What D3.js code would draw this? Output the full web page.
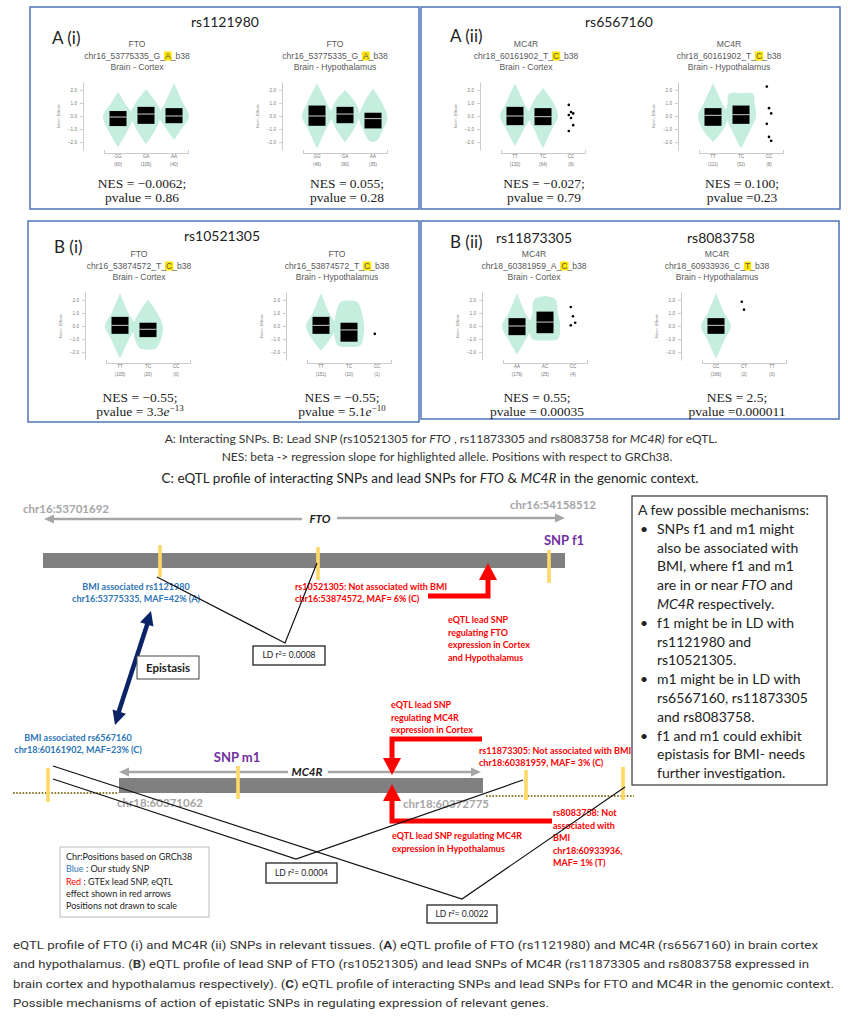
<!DOCTYPE html>
<html>
<head>
<meta charset="utf-8">
<script src="https://cdn.jsdelivr.net/npm/d3@7"></script>
<style>
  body { margin: 0; background: #fff; }
  svg { display: block; }
</style>
</head>
<body>
<svg id="fig" width="848" height="1024"></svg>
<script>
// ---------- data ----------
const panelLabels = ['A (i)', 'A (ii)', 'B (i)', 'B (ii)'];
const snpHeaders = ['rs1121980', 'rs6567160', 'rs10521305', 'rs11873305', 'rs8083758'];

const genes = ['FTO', 'FTO', 'MC4R', 'MC4R', 'FTO', 'FTO', 'MC4R', 'MC4R'];
const variantIds = [
  'chr16_53775335_G_A_b38', 'chr16_53775335_G_A_b38',
  'chr18_60161902_T_C_b38', 'chr18_60161902_T_C_b38',
  'chr16_53874572_T_C_b38', 'chr16_53874572_T_C_b38',
  'chr18_60381959_A_C_b38', 'chr18_60933936_C_T_b38'
];
const tissues = ['Brain - Cortex', 'Brain - Hypothalamus', 'Brain - Cortex', 'Brain - Hypothalamus',
  'Brain - Cortex', 'Brain - Hypothalamus', 'Brain - Cortex', 'Brain - Hypothalamus'];
const genotypes = [
  ['GG', 'GA', 'AA'], ['GG', 'GA', 'AA'], ['TT', 'TC', 'CC'], ['TT', 'TC', 'CC'],
  ['TT', 'TC', 'CC'], ['TT', 'TC', 'CC'], ['AA', 'AC', 'CC'], ['CC', 'CT', 'TT']
];
const sampleCounts = [
  [60, 105, 40], [46, 90, 35], [132, 64, 9], [111, 52, 8],
  [105, 20, 0], [151, 10, 1], [176, 25, 4], [166, 2, 0]
];
// violin outline: [normalised expression, relative density]
const violinProfiles = [
  [[[1.85,0],[1.0,0.45],[0,1],[-1.0,0.7],[-2.4,0]],
   [[2.05,0],[1.0,0.7],[0.2,1],[-1.0,0.65],[-2.15,0]],
   [[2.5,0],[1.0,0.6],[0,1],[-1.0,0.5],[-1.85,0]]],
  [[[2.5,0],[1.0,0.65],[0,1],[-1.0,0.6],[-2.5,0]],
   [[2.0,0],[1.0,0.7],[0.2,0.95],[-1.0,0.6],[-2.0,0]],
   [[2.1,0],[1.0,0.6],[-0.1,0.95],[-1.2,0.6],[-1.9,0.25],[-2.0,0]]],
  [[[2.5,0],[1.0,0.6],[0,1],[-1.0,0.6],[-2.3,0]],
   [[2.15,0],[1.0,0.7],[0,1],[-1.0,0.6],[-2.5,0]],
   null],
  [[[2.5,0],[1.0,0.6],[0,1],[-1.0,0.7],[-2.0,0]],
   [[1.75,0],[1.7,0.8],[1.0,0.9],[0,1],[-1.0,0.65],[-2.5,0]],
   null],
  [[[2.5,0],[1.0,0.55],[0,1],[-1.0,0.6],[-2.5,0]],
   [[2.0,0],[1.2,0.5],[-0.1,1],[-1.7,0.55],[-1.8,0]],
   null],
  [[[2.5,0],[1.0,0.55],[0,1],[-1.0,0.6],[-1.9,0]],
   [[1.95,0],[1.85,0.55],[0.5,0.95],[-0.5,1],[-1.5,0.75],[-1.6,0]],
   null],
  [[[2.5,0],[1.0,0.55],[0,1],[-1.0,0.6],[-2.2,0]],
   [[2.3,0],[2.05,0.7],[1.0,0.85],[0.2,1],[-1.0,0.85],[-1.1,0]],
   null],
  [[[2.5,0],[1.0,0.55],[0,1],[-1.0,0.6],[-2.5,0]],
   null,
   null]
];
// box: [q1, median, q3]
const boxStats = [
  [[-0.77,-0.08,0.38], [-0.6,0.15,0.7], [-0.55,0.0,0.6]],
  [[-0.75,0.0,0.8], [-0.55,0.15,0.7], [-0.95,-0.2,0.25]],
  [[-0.7,0.0,0.7], [-0.7,-0.05,0.6], null],
  [[-0.75,0.05,0.6], [-0.6,0.1,0.8], null],
  [[-0.6,0.05,0.7], [-0.85,-0.25,0.25], null],
  [[-0.6,0.05,0.7], [-1.2,-0.3,0.25], null],
  [[-0.7,0.0,0.6], [-0.55,0.3,1.1], null],
  [[-0.6,0.05,0.6], null, null]
];
// single samples drawn as dots
const pointValues = [
  [[], [], []], [[], [], []],
  [[], [], [0.85, 0.3, 0.2, 0.08, -0.15, -0.7, -1.15]],
  [[], [], [2.25, 0.6, 0.2, -0.6, -1.6, -1.9]],
  [[], [], []],
  [[], [], [-0.6]],
  [[], [], [1.45, 0.75, 0.25, 0.05]],
  [[], [1.85, 1.25], []]
];
const nesValues = ['\u22120.0062', '0.055', '\u22120.027', '0.100', '\u22120.55', '\u22120.55', '0.55', '2.5'];
const pValues = ['= 0.86', '= 0.28', '= 0.79', '=0.23', '= 3.3e\u221213', '= 5.1e\u221210', '= 0.00035', '=0.000011'];

const captionTop = [
  [['A: Interacting SNPs. B: Lead SNP (rs10521305 for '], ['FTO', 'i'], [' , rs11873305 and rs8083758 for '], ['MC4R)', 'i'], [' for eQTL.']],
  [['NES: beta -> regression slope for highlighted allele. Positions with respect to GRCh38.']],
  [['C: eQTL profile of interacting SNPs and lead SNPs for '], ['FTO', 'i'], [' & '], ['MC4R', 'i'], [' in the genomic context.']]
];

const geneRanges = [['chr16:53701692', 'chr16:54158512'], ['chr18:60371062', 'chr18:60372775']];
const studySnpText = [
  ['BMI associated rs1121980', 'chr16:53775335, MAF=42% (A)'],
  ['BMI associated rs6567160', 'chr18:60161902, MAF=23% (C)']
];
const leadSnpText = [
  ['rs10521305: Not associated with BMI', 'chr16:53874572, MAF= 6% (C)'],
  ['rs11873305: Not associated with BMI', 'chr18:60381959, MAF= 3% (C)'],
  ['rs8083758: Not', 'associated with', 'BMI', 'chr18:60933936,', 'MAF= 1% (T)']
];
const eqtlNotes = [
  ['eQTL lead SNP', 'regulating FTO', 'expression in Cortex', 'and Hypothalamus'],
  ['eQTL lead SNP', 'regulating MC4R', 'expression in Cortex'],
  ['eQTL lead SNP regulating MC4R', 'expression in Hypothalamus']
];
const ldValues = ['0.0008', '0.0004', '0.0022'];
const candidateSnps = ['SNP f1', 'SNP m1'];

const mechanismLines = [
  [['A few possible mechanisms:']],
  [['SNPs f1 and m1 might']], [['also be associated with']], [['BMI, where f1 and m1']],
  [['are in or near '], ['FTO', 'i'], [' and']], [['MC4R', 'i'], [' respectively.']],
  [['f1 might be in LD with']], [['rs1121980 and']], [['rs10521305.']],
  [['m1 might be in LD with']], [['rs6567160, rs11873305']], [['and rs8083758.']],
  [['f1 and m1 could exhibit']], [['epistasis for BMI- needs']], [['further investigation.']]
];
const bulletRows = [1, 6, 9, 12];

const legendLines = [
  [['Chr:Positions based on GRCh38']],
  [['Blue', 'blue'], [' : Our study SNP']],
  [['Red', 'red'], ['  : GTEx lead SNP, eQTL']],
  [['effect shown in red arrows']],
  [['Positions not drawn to scale']]
];

const captionBottom = [
  [['eQTL profile of FTO (i) and MC4R (ii) SNPs in relevant tissues. ('], ['A', 'b'], [') eQTL profile of FTO (rs1121980) and MC4R (rs6567160) in brain cortex']],
  [['and hypothalamus. ('], ['B', 'b'], [') eQTL profile of lead SNP of FTO (rs10521305) and lead SNPs of MC4R (rs11873305 and rs8083758 expressed in']],
  [['brain cortex and hypothalamus respectively). ('], ['C', 'b'], [') eQTL profile of interacting SNPs and lead SNPs for FTO and MC4R in the genomic context.']],
  [['Possible mechanisms of action of epistatic SNPs in regulating expression of relevant genes.']]
];

// ---------- helpers ----------
const svg = d3.select('#fig');
const LATO = 'Lato, "Open Sans", sans-serif';
const ARIAL = '"Liberation Sans", Arial, sans-serif';
const SERIF = '"Liberation Serif", "DejaVu Serif", serif';
const RED = '#ff0000', BLUE = '#2e75b6', PURPLE = '#7030a0', GREY = '#a6a6a6', GOLD = '#ffd966';

function txt(g, x, y, s, o = {}) {
  const t = g.append('text').attr('x', x).attr('y', y).attr('dy', '0.35em')
    .attr('font-family', o.font || LATO).attr('font-size', o.size || 10)
    .attr('fill', o.fill || '#222').attr('text-anchor', o.anchor || 'start')
    .text(s);
  if (o.weight) t.attr('font-weight', o.weight);
  if (o.style) t.attr('font-style', o.style);
  if (o.len) t.attr('textLength', o.len).attr('lengthAdjust', 'spacingAndGlyphs');
  return t;
}
function rich(g, x, y, parts, o = {}) {
  const t = txt(g, x, y, '', o);
  parts.forEach(([s, f = '']) => {
    const ts = t.append('tspan').text(s);
    if (f === 'i') ts.attr('font-style', 'italic');
    if (f === 'b') ts.attr('font-weight', 'bold');
    if (f === 'blue') ts.attr('fill', BLUE);
    if (f === 'red') ts.attr('fill', RED);
  });
  return t;
}
function lines(g, x, y, arr, step, o) {
  arr.forEach((s, k) => txt(g, x, y + k * step, s, o));
}
function head(g, tip, dir, len, half, fill) {
  const [tx, ty] = tip, [dx, dy] = dir;
  const bx = tx - dx * len, by = ty - dy * len;
  g.append('path')
    .attr('d', `M${tx},${ty}L${bx - dy * half},${by + dx * half}L${bx + dy * half},${by - dx * half}Z`)
    .attr('fill', fill);
}

// ---------- panels ----------
const panelBoxes = [[30, 7, 389, 202], [421, 7, 419, 202], [28, 221, 391, 201], [421, 221, 418, 198]];
svg.append('g').selectAll('rect').data(panelBoxes).join('rect')
  .attr('x', d => d[0]).attr('y', d => d[1]).attr('width', d => d[2]).attr('height', d => d[3])
  .attr('fill', '#fff').attr('stroke', '#4f74b8').attr('stroke-width', 1.5);

const labelPos = [[52, 38], [450, 36], [54, 247], [450, 242]];
panelLabels.forEach((s, k) => txt(svg, labelPos[k][0], labelPos[k][1], s, { size: 17 }));
const headerPos = [[225, 22], [619, 22], [222, 236], [534, 238], [721, 238]];
snpHeaders.forEach((s, k) => txt(svg, headerPos[k][0], headerPos[k][1], s, { size: 14, anchor: 'middle' }));

// ---------- violin plots ----------
const plotLayout = [
  { ax: 83, y0: 116, tx: 137, nx: 142, ty: 44, ny: 183 },
  { ax: 282, y0: 116, tx: 335, nx: 347, ty: 44, ny: 183 },
  { ax: 480, y0: 116, tx: 526, nx: 544, ty: 44, ny: 183 },
  { ax: 678, y0: 116, tx: 729, nx: 742, ty: 44, ny: 183 },
  { ax: 85, y0: 326, tx: 139, nx: 140, ty: 254, ny: 397 },
  { ax: 286, y0: 326, tx: 337, nx: 342, ty: 254, ny: 397 },
  { ax: 482, y0: 326, tx: 534, nx: 537, ty: 254, ny: 397 },
  { ax: 681, y0: 326, tx: 717, nx: 737, ty: 254, ny: 397 }
];

plotLayout.forEach((L, i) => {
  const g = svg.append('g');
  // titles
  txt(g, L.tx, L.ty, genes[i], { font: ARIAL, size: 8.6, fill: '#5a5a5a', anchor: 'middle' });
  const parts = variantIds[i].split('_');
  const pre = parts.slice(0, 3).join('_') + '_';
  const idT = txt(g, L.tx, L.ty + 12, variantIds[i], { font: ARIAL, size: 8.6, fill: '#5a5a5a', anchor: 'middle' });
  const ext = idT.node().getExtentOfChar(pre.length);
  g.insert('rect', () => idT.node())
    .attr('x', ext.x - 1).attr('y', ext.y + 0.5).attr('width', ext.width + 2).attr('height', ext.height - 1)
    .attr('fill', '#ffe600');
  txt(g, L.tx, L.ty + 23, tissues[i], { font: ARIAL, size: 8.6, fill: '#5a5a5a', anchor: 'middle' });

  const y = d3.scaleLinear().domain([-2.6, 2.6]).range([L.y0 + 34, L.y0 - 34]);
  const x = d3.scaleBand().domain(genotypes[i]).range([L.ax + 21, L.ax + 105]);
  const cx = gt => x(gt) + x.bandwidth() / 2;

  const yAxis = g.append('g').attr('transform', `translate(${L.ax},0)`)
    .call(d3.axisLeft(y).tickValues([-2, -1, 0, 1, 2]).tickFormat(d3.format('.1f'))
      .tickSizeInner(3).tickSizeOuter(0).tickPadding(3));
  yAxis.selectAll('path,line').attr('stroke', '#aaa').attr('stroke-width', 0.6);
  yAxis.selectAll('text').attr('font-size', 4.6).attr('fill', '#777').attr('font-family', ARIAL);
  txt(g, 0, 0, 'Norm. Effects', { font: ARIAL, size: 4, fill: '#888', anchor: 'middle' })
    .attr('transform', `translate(${L.ax - 24},${L.y0}) rotate(-90)`);

  const xAxis = g.append('g').attr('transform', `translate(0,${L.y0 + 37})`)
    .call(d3.axisBottom(x).tickSizeInner(0).tickSizeOuter(-3).tickPadding(2));
  xAxis.selectAll('path,line').attr('stroke', '#aaa').attr('stroke-width', 0.6);
  xAxis.selectAll('text').attr('font-size', 4.6).attr('fill', '#777').attr('font-family', ARIAL);
  genotypes[i].forEach((gt, k) =>
    txt(g, cx(gt), L.y0 + 48, `(${sampleCounts[i][k]})`, { font: ARIAL, size: 4.6, fill: '#777', anchor: 'middle' }));

  const area = d3.area().curve(d3.curveCatmullRom.alpha(0.5)).y(d => y(d[0]));
  genotypes[i].forEach((gt, k) => {
    const prof = violinProfiles[i][k];
    const c = cx(gt);
    if (prof) {
      g.append('path').datum(prof)
        .attr('d', area.x0(d => c - d[1] * 15).x1(d => c + d[1] * 15))
        .attr('fill', '#c6eedf');
    }
  });
  genotypes[i].forEach((gt, k) => {
    const b = boxStats[i][k];
    const c = cx(gt);
    if (b) {
      g.append('rect').attr('x', c - 8.5).attr('y', y(b[2])).attr('width', 17)
        .attr('height', y(b[0]) - y(b[2])).attr('fill', '#000');
      g.append('line').attr('x1', c - 8.5).attr('x2', c + 8.5).attr('y1', y(b[1])).attr('y2', y(b[1]))
        .attr('stroke', '#fff').attr('stroke-width', 0.8);
    }
    g.selectAll(null).data(pointValues[i][k]).join('circle')
      .attr('cx', (d, j) => c + ((j % 3) - 1) * 2.2).attr('cy', d => y(d)).attr('r', 1.3).attr('fill', '#000');
  });

  // NES / p-value
  txt(g, L.nx, L.ny, `NES = ${nesValues[i]};`, { font: SERIF, size: 13.5, anchor: 'middle' });
  const pv = pValues[i];
  if (pv.includes('e')) {
    const [m, e] = pv.split('e');
    const t = txt(g, L.nx, L.ny + 14, '', { font: SERIF, size: 13.5, anchor: 'middle' });
    t.append('tspan').text(`pvalue ${m}`);
    t.append('tspan').attr('font-style', 'italic').text('e');
    t.append('tspan').attr('font-size', 9).attr('dy', -5).text(e);
  } else {
    txt(g, L.nx, L.ny + 14, `pvalue ${pv}`, { font: SERIF, size: 13.5, anchor: 'middle' });
  }
});

// ---------- caption between panels and diagram ----------
rich(svg, 441, 439, captionTop[0], { size: 12, fill: '#333', anchor: 'middle' });
rich(svg, 447, 457, captionTop[1], { size: 12, fill: '#333', anchor: 'middle' });
rich(svg, 430, 478, captionTop[2], { size: 13.5, fill: '#222', anchor: 'middle' });

// ---------- genomic context diagram ----------
const dg = svg.append('g');
function greyArrow(x1, x2, y) {
  const dir = x2 > x1 ? 1 : -1;
  dg.append('line').attr('x1', x1).attr('x2', x2 - dir * 8).attr('y1', y).attr('y2', y)
    .attr('stroke', GREY).attr('stroke-width', 2.6);
  head(dg, [x2, y], [dir, 0], 10, 4.5, GREY);
}
function tick(x, y1, y2) {
  dg.append('rect').attr('x', x - 1.8).attr('y', y1).attr('width', 3.6).attr('height', y2 - y1).attr('fill', GOLD);
}
function redElbow(pts, tip, dir) {
  dg.append('path').attr('d', d3.line()(pts)).attr('fill', 'none')
    .attr('stroke', RED).attr('stroke-width', 5).attr('stroke-linejoin', 'miter');
  head(dg, tip, dir, 17, 9, RED);
}
function ldBox(x, y, w, h, val) {
  dg.append('rect').attr('x', x).attr('y', y).attr('width', w).attr('height', h)
    .attr('fill', '#fff').attr('stroke', '#222').attr('stroke-width', 1.3);
  const t = txt(dg, x + w / 2, y + h / 2, '', { size: 8.5, anchor: 'middle' });
  t.append('tspan').text('LD r');
  t.append('tspan').attr('font-size', 5.5).attr('dy', -3).text('2');
  t.append('tspan').attr('dy', 3).text(`= ${val}`);
}

// FTO
txt(dg, 23, 509, geneRanges[0][0], { size: 11.5, weight: 'bold', fill: GREY });
txt(dg, 510, 505, geneRanges[0][1], { size: 11.5, weight: 'bold', fill: GREY });
greyArrow(302, 44, 519);
greyArrow(337, 565, 518);
txt(dg, 320, 519, 'FTO', { size: 11.5, weight: 'bold', style: 'italic', anchor: 'middle' });
dg.append('rect').attr('x', 43).attr('y', 553).attr('width', 522).attr('height', 15).attr('fill', '#808080');
tick(160, 545, 577); tick(318, 547, 580); tick(549, 550, 583);
txt(dg, 564, 540, candidateSnps[0], { size: 13, weight: 'bold', fill: PURPLE, anchor: 'middle' });
lines(dg, 136, 587, studySnpText[0], 11.5, { size: 9, weight: 'bold', fill: BLUE, anchor: 'middle' });
lines(dg, 295, 587, leadSnpText[0], 11.5, { size: 9, weight: 'bold', fill: RED });
redElbow([[428, 596], [488, 596], [488, 578]], [488, 563], [0, -1]);
lines(dg, 448, 620, eqtlNotes[0], 12.5, { size: 9, weight: 'bold', fill: RED });
dg.append('path').attr('d', 'M157,577L285,643L317,563').attr('fill', 'none').attr('stroke', '#111').attr('stroke-width', 1.2);
ldBox(253, 646, 72, 19, ldValues[0]);

// epistasis
dg.append('line').attr('x1', 148).attr('y1', 622).attr('x2', 118).attr('y2', 714)
  .attr('stroke', '#0b2467').attr('stroke-width', 4.5);
{
  const dx = 115 - 151, dy = 725 - 611, n = Math.hypot(dx, dy);
  head(dg, [151, 611], [-dx / n, -dy / n], 14, 7, '#0b2467');
  head(dg, [115, 725], [dx / n, dy / n], 14, 7, '#0b2467');
}
dg.append('rect').attr('x', 137).attr('y', 656).attr('width', 62).attr('height', 23)
  .attr('fill', '#fff').attr('stroke', '#444').attr('stroke-width', 1);
txt(dg, 168, 668, 'Epistasis', { size: 11.5, weight: 'bold', anchor: 'middle' });

// MC4R
lines(dg, 78, 738, studySnpText[1], 11.5, { size: 9, weight: 'bold', fill: BLUE, anchor: 'middle' });
dg.append('line').attr('x1', 13).attr('x2', 119).attr('y1', 793).attr('y2', 793)
  .attr('stroke', '#8c7a2c').attr('stroke-width', 1.8).attr('stroke-dasharray', '1.6,1.6');
dg.append('line').attr('x1', 486).attr('x2', 634).attr('y1', 796).attr('y2', 796)
  .attr('stroke', '#8c7a2c').attr('stroke-width', 1.8).attr('stroke-dasharray', '1.6,1.6');
dg.append('rect').attr('x', 119).attr('y', 778).attr('width', 364).attr('height', 15).attr('fill', '#808080');
greyArrow(288, 119, 772);
greyArrow(328, 481, 772);
txt(dg, 307, 772, 'MC4R', { size: 11.5, weight: 'bold', style: 'italic', anchor: 'middle' });
txt(dg, 117, 803, geneRanges[1][0], { size: 11.5, weight: 'bold', fill: GREY });
txt(dg, 403, 804, geneRanges[1][1], { size: 11.5, weight: 'bold', fill: GREY });
tick(48, 768, 802); tick(238, 766, 799); tick(526, 770, 800); tick(623, 767, 800);
txt(dg, 237, 757, candidateSnps[1], { size: 13, weight: 'bold', fill: PURPLE, anchor: 'middle' });
lines(dg, 391, 705, eqtlNotes[1], 12.5, { size: 9, weight: 'bold', fill: RED });
redElbow([[482, 739], [392, 739], [392, 758]], [392, 775], [0, 1]);
redElbow([[552, 821], [392, 821], [392, 800]], [392, 784], [0, -1]);
lines(dg, 392, 836, eqtlNotes[2], 12.5, { size: 9, weight: 'bold', fill: RED });
lines(dg, 479, 751, leadSnpText[1], 11.5, { size: 9, weight: 'bold', fill: RED });
lines(dg, 553, 813, leadSnpText[2], 12.5, { size: 9, weight: 'bold', fill: RED });
dg.append('path').attr('d', 'M53,779L296,859L523,780').attr('fill', 'none').attr('stroke', '#111').attr('stroke-width', 1.2);
dg.append('path').attr('d', 'M53,766L462,899L625,787').attr('fill', 'none').attr('stroke', '#111').attr('stroke-width', 1.2);
ldBox(266, 863, 71, 20, ldValues[1]);
ldBox(427, 905, 70, 18, ldValues[2]);

// legend box
dg.append('rect').attr('x', 60).attr('y', 847).attr('width', 149).attr('height', 70)
  .attr('fill', '#fff').attr('stroke', '#c8c8c8').attr('stroke-width', 1.2);
legendLines.forEach((p, k) => rich(dg, 66, 857 + k * 12.3, p, { size: 9, fill: '#222' }));

// mechanisms box
dg.append('rect').attr('x', 632).attr('y', 496).attr('width', 195).attr('height', 289)
  .attr('fill', '#fff').attr('stroke', '#444').attr('stroke-width', 1.3);
mechanismLines.forEach((p, k) => {
  const yy = 510 + k * 18.8;
  rich(dg, k === 0 ? 638 : 657, yy, p, { size: 14, fill: '#222' });
  if (bulletRows.includes(k)) txt(dg, 640, yy, '\u2022', { size: 14, fill: '#222' });
});

// ---------- bottom caption ----------
const capLen = [805, 796, 821, 536];
captionBottom.forEach((p, k) =>
  rich(svg, 13, 945 + k * 19.4, p, { font: 'Roboto, sans-serif', size: 11.5, fill: '#333', len: capLen[k] }));
</script>
</body>
</html>
